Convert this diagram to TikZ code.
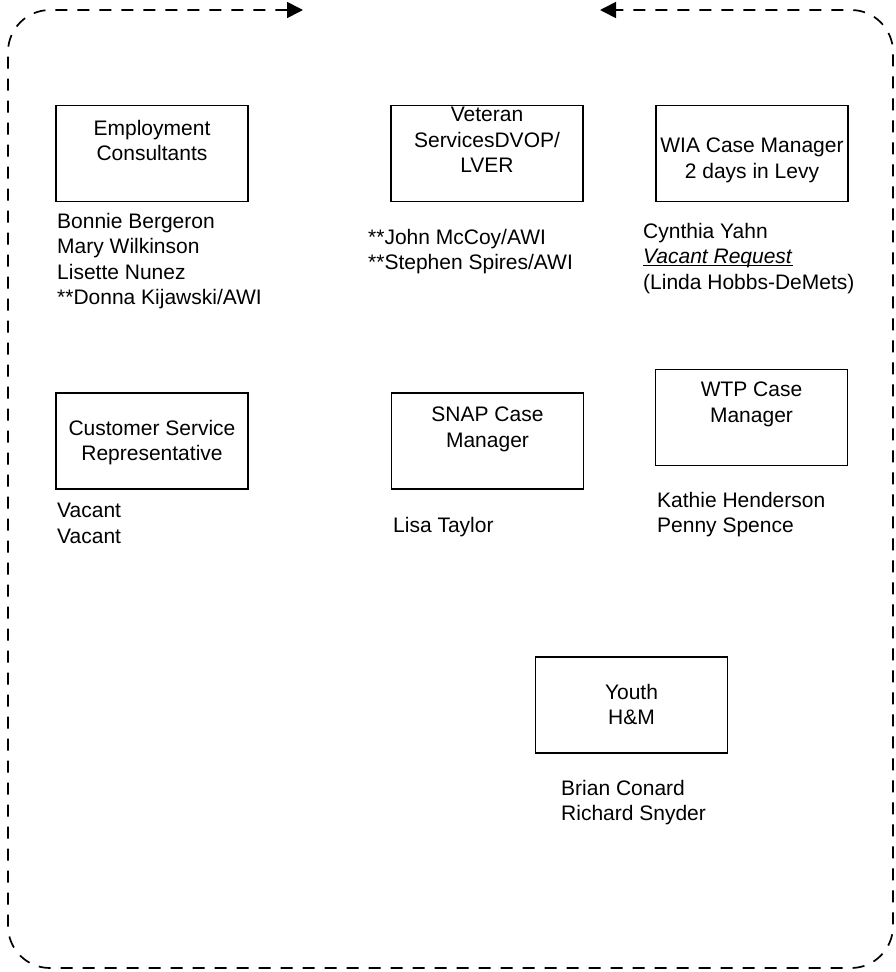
\documentclass[tikz,border=0pt]{standalone}
\usepackage{fontspec}
\setmainfont{Liberation Sans}
\usetikzlibrary{arrows.meta}
\tikzset{
unitbox/.style={rectangle,draw=black,line width=1.4pt,
minimum width=192pt,minimum height=96pt,inner sep=0pt},
boxtitle/.style={anchor=north,align=center,inner sep=0pt,
font=\fontsize{21}{25.5}\selectfont},
staff/.style={anchor=north west,align=left,inner sep=0pt,
font=\fontsize{21}{25.5}\selectfont},
loop/.style={line width=1.7pt,dash pattern=on 12pt off 10pt,
rounded corners=42pt,{Triangle[length=16pt,width=16pt]}-{Triangle[length=16pt,width=16pt]}}
}
\begin{document}
\begin{tikzpicture}[x=1pt,y=-1pt]
\useasboundingbox (0,0) rectangle (896,972);

% frame round the office
\draw[loop] (303,10) -- (8,10) -- (8,968) -- (893,968) -- (893,10) -- (600,10);

% top row
\node[unitbox] (EC) at (152,153.5) {};
\node[boxtitle] (ECt) at (152,120) {Employment\\Consultants};
\node[staff] (ECs) at (57,213) {Bonnie Bergeron\\Mary Wilkinson\\Lisette Nunez\\**Donna Kijawski/AWI};

\node[unitbox] (VS) at (487,153.5) {};
\node[boxtitle] (VSt) at (487,107) {Veteran\\ServicesDVOP/\\LVER};
\node[staff] (VSs) at (368,229) {**John McCoy/AWI\\**Stephen Spires/AWI};

\node[unitbox] (WIA) at (752,153.5) {};
\node[boxtitle] (WIAt) at (752,138) {WIA Case Manager\\2 days in Levy};
\node[staff] (WIAs) at (643,223) {Cynthia Yahn\\\underline{\smash{\textit{Vacant Request}}}\\(Linda Hobbs-DeMets)};

% second row
\node[unitbox] (CSR) at (152,441) {};
\node[boxtitle] (CSRt) at (152,420) {Customer Service\\Representative};
\node[staff] (CSRs) at (57,503) {Vacant\\Vacant};

\node[unitbox] (SNAP) at (487.5,441) {};
\node[boxtitle] (SNAPt) at (487.5,407) {SNAP Case\\Manager};
\node[staff] (SNAPs) at (393,517) {Lisa Taylor};

\node[unitbox] (WTP) at (751.5,417.5) {};
\node[boxtitle] (WTPt) at (751.5,382) {WTP Case\\Manager};
\node[staff] (WTPs) at (657,492) {Kathie Henderson\\Penny Spence};

% youth
\node[unitbox] (YHM) at (631.5,705) {};
\node[boxtitle] (YHMt) at (631.5,684) {Youth\\H\&M};
\node[staff] (YHMs) at (561,780) {Brian Conard\\Richard Snyder};

\end{tikzpicture}
\end{document}
